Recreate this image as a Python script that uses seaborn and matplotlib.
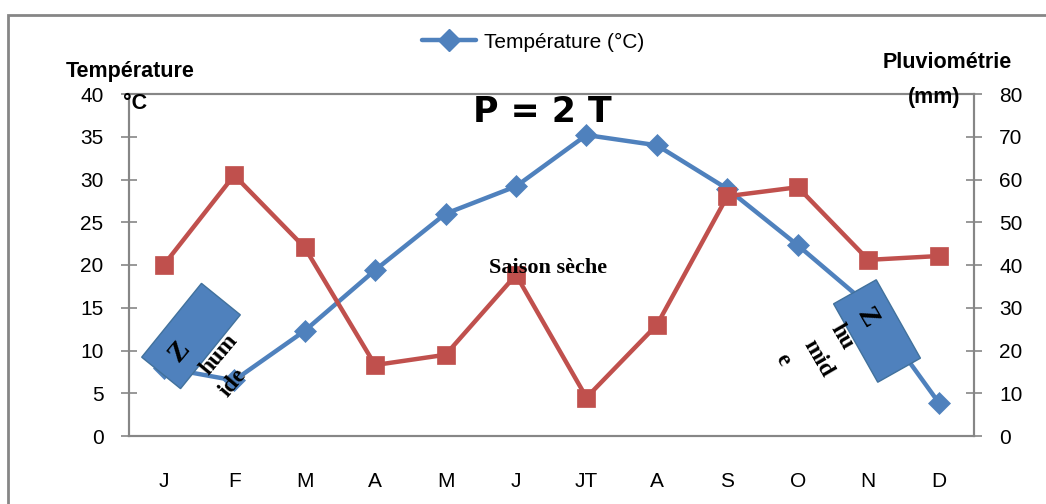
import numpy as np
import pandas as pd
import matplotlib
matplotlib.use("Agg")
import matplotlib.pyplot as plt
import matplotlib.transforms as mtransforms
from matplotlib.patches import Rectangle
from matplotlib.lines import Line2D
import seaborn as sns

months = ["J", "F", "M", "A", "M", "J", "JT", "A", "S", "O", "N", "D"]
temperature = [8.0, 6.5, 12.3, 19.4, 26.0, 29.2, 35.2, 34.0, 28.9, 22.3, 15.3, 3.9]
rainfall = [40.0, 61.0, 44.1, 16.6, 19.0, 37.7, 9.0, 26.0, 56.1, 58.2, 41.2, 42.1]
temp_ticks = [0, 5, 10, 15, 20, 25, 30, 35, 40]
rain_ticks = [0, 10, 20, 30, 40, 50, 60, 70, 80]

BLUE = "#4F81BD"
RED = "#C0504D"
GRAY = "#868686"

sns.set_style("white")
plt.rcParams["font.family"] = ["Liberation Sans", "DejaVu Sans"]
plt.rcParams["text.color"] = "black"
plt.rcParams["xtick.color"] = "black"
plt.rcParams["ytick.color"] = "black"

W, H = 1046, 504
fig = plt.figure(figsize=(W / 100, H / 100), dpi=100)
ax = fig.add_axes([128.5 / W, (H - 436) / H, (974 - 128.5) / W, (436 - 94) / H])
ax2 = ax.twinx()

pos = np.arange(len(months))
df = pd.DataFrame({"pos": pos, "temp": temperature, "rain": rainfall})

sns.lineplot(data=df, x="pos", y="temp", ax=ax, color=BLUE, linewidth=3.2,
             marker="D", markersize=11, markeredgecolor=BLUE, markeredgewidth=0.5)
sns.lineplot(data=df, x="pos", y="rain", ax=ax2, color=RED, linewidth=3.2,
             marker="s", markersize=13, markeredgecolor=RED, markeredgewidth=0.5)

ax.set_xlim(-0.5, len(months) - 0.5)
ax.set_ylim(temp_ticks[0], temp_ticks[-1])
ax2.set_ylim(rain_ticks[0], rain_ticks[-1])
ax.set_yticks(temp_ticks)
ax2.set_yticks(rain_ticks)
ax.set_yticklabels([str(t) for t in temp_ticks])
ax2.set_yticklabels([str(t) for t in rain_ticks])

ax.set_xticks(np.arange(-0.5, len(months), 1.0))
ax.set_xticklabels([])
ax.set_xticks(pos, minor=True)
ax.set_xticklabels(months, minor=True)
ax.tick_params(axis="x", which="major", direction="out", length=6, width=1.2, color=GRAY)
ax.tick_params(axis="x", which="minor", length=0, pad=26, labelsize=15, labelcolor="black")

ax.tick_params(axis="y", direction="inout", length=12, width=1.2, color=GRAY, pad=12,
               labelsize=15, left=True, labelcolor="black")
ax2.tick_params(axis="y", direction="inout", length=12, width=1.2, color=GRAY, pad=12,
                labelsize=15, right=True, labelcolor="black")

ax.set_xlabel("")
ax.set_ylabel("")
ax2.set_ylabel("")
for a in (ax, ax2):
    for s in a.spines.values():
        s.set_color(GRAY)
        s.set_linewidth(1.5)

# outer frame
frame = Rectangle((8 / W, -0.1), 1.2, 1.0 - 15 / H + 0.1, transform=fig.transFigure,
                  fill=False, edgecolor=GRAY, linewidth=2.0, zorder=0)
fig.patches.append(frame)

# legend
handle = Line2D([], [], color=BLUE, linewidth=3.2, marker="D", markersize=11, markeredgecolor=BLUE)
if ax.get_legend():
    ax.get_legend().remove()
fig.legend([handle], ["Température (°C)"], loc="center", bbox_to_anchor=(533 / W, 1 - 42 / H),
           frameon=False, fontsize=15, handlelength=2.6, handletextpad=0.35, borderpad=0,
           labelcolor="black")

# axis titles
fig.text(130 / W, 1 - 72 / H, "Température", ha="center", va="center", fontsize=15.5, fontweight="bold")
fig.text(123 / W, 1 - 104 / H, "°C", ha="left", va="center", fontsize=15.5, fontweight="bold")
fig.text(947 / W, 1 - 62 / H, "Pluviométrie", ha="center", va="center", fontsize=15.5, fontweight="bold")
fig.text(934 / W, 1 - 97 / H, "(mm)", ha="center", va="center", fontsize=15.5, fontweight="bold")

# annotations
fig.text(542 / W, 1 - 112 / H, "P = 2 T", ha="center", va="center", fontsize=25, fontweight="bold",
         family=["DejaVu Sans"])
fig.text(548 / W, 1 - 268 / H, "Saison sèche", ha="center", va="center", fontsize=16, fontweight="bold",
         family=["Liberation Serif"])


def rot_box(cx, cy_img, w, h, angle):
    cy = H - cy_img
    tr = mtransforms.Affine2D().rotate_deg_around(cx, cy, angle)
    r = Rectangle((cx - w / 2, cy - h / 2), w, h, transform=tr, facecolor=BLUE,
                  edgecolor="#41719C", linewidth=1.0, zorder=10)
    fig.patches.append(r)


rot_box(191, 336, 95, 50, 51)
rot_box(877, 331, 90, 49, -60.6)

serif = ["Liberation Serif"]
for txt, x, y, rot, fs in [("Z", 180, 352, 50, 20), ("hum", 219, 355, 50, 17), ("ide", 233, 383, 50, 17),
                           ("Z", 867, 318, -60, 20), ("hu", 842, 337, -60, 17), ("mid", 818, 358, -60, 17),
                           ("e", 783, 360, -60, 17)]:
    fig.text(x / W, 1 - y / H, txt, ha="center", va="center", rotation=rot, fontsize=fs,
             fontweight="bold", family=serif, zorder=11)

fig.savefig("out.png", dpi=100)
